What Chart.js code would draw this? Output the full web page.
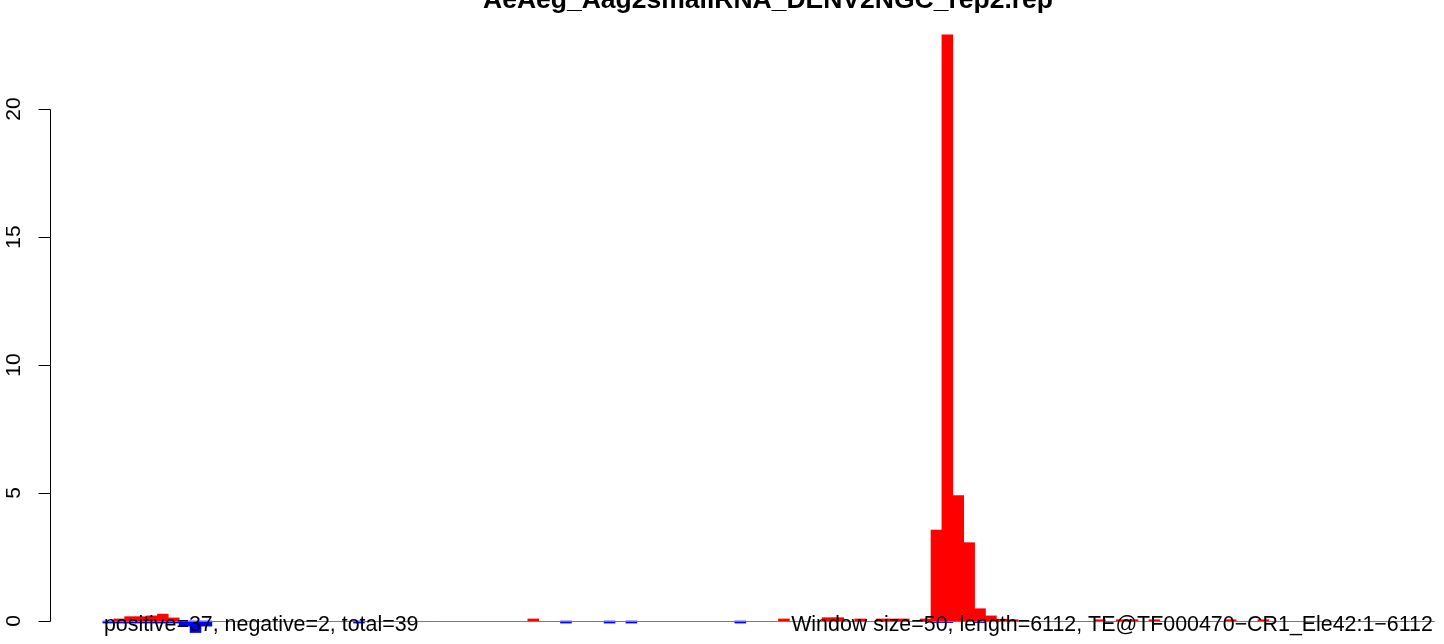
<!DOCTYPE html>
<html>
<head>
<meta charset="utf-8">
<script src="https://cdn.jsdelivr.net/npm/chart.js@4/dist/chart.umd.min.js"></script>
<style>
  html, body { margin: 0; padding: 0; background: #ffffff; }
  #wrap { width: 1444px; height: 644px; }
</style>
</head>
<body>
<div id="wrap"><canvas id="c" width="1444" height="644"></canvas></div>
<script>
// ---- data (window index -> value; window size 50 bp) ----
const titleText = "AeAeg_Aag2smallRNA_DENV2NGC_rep2.rep";
const leftNote = "positive=37, negative=2, total=39";
const rightNote = "Window size=50, length=6112, TE@TF000470\u2212CR1_Ele42:1\u22126112";
const windowSize = 50;
const seqLength = 6112;
const posWindows = [1, 2, 3, 4, 5, 6, 39, 62, 66, 67, 69, 71, 72, 73, 75, 76, 77, 78, 79, 80, 81, 82, 83, 91, 93, 94, 96, 103, 106];
const posValues  = [0.08, 0.17, 0.17, 0.2, 0.27, 0.12, 0.08, 0.08, 0.13, 0.13, 0.08, 0.08, 0.08, 0.08, 0.08, 3.55, 22.9, 4.9, 3.06, 0.48, 0.2, 0.07, 0.05, 0.05, 0.05, 0.05, 0.05, 0.05, 0.05];
const negWindows = [0, 1, 2, 3, 4, 5, 6, 7, 8, 9, 23, 42, 46, 48, 58, 76, 77, 80];
const negValues  = [-0.08, -0.08, -0.08, -0.08, -0.08, -0.08, -0.08, -0.2, -0.45, -0.2, -0.08, -0.08, -0.08, -0.08, -0.08, -0.06, -0.06, -0.06];
const yTicks = [0, 5, 10, 15, 20];

// ---- build full series over all windows (empty windows -> null) ----
const nWindows = Math.ceil(seqLength / windowSize);
function series(wins, vals) {
  const out = [];
  for (let i = 0; i < nWindows; i++) out.push({ x: i * windowSize + windowSize / 2, y: null });
  wins.forEach((w, k) => { out[w].y = vals[k]; });
  return out;
}

const FONT = '"Liberation Sans", Arial, Helvetica, sans-serif';

const decor = {
  id: 'decor',
  afterDatasetsDraw(chart) {
    const ctx = chart.ctx, xs = chart.scales.x, ys = chart.scales.y;
    ctx.save();
    ctx.strokeStyle = '#7a7a7a';
    ctx.lineWidth = 1;
    const y0 = Math.round(ys.getPixelForValue(0)) + 0.5;
    ctx.beginPath();
    ctx.moveTo(xs.getPixelForValue(0), y0);
    ctx.lineTo(xs.getPixelForValue(seqLength), y0);
    ctx.stroke();
    ctx.restore();
  },
  afterDraw(chart) {
    const ctx = chart.ctx, xs = chart.scales.x, ys = chart.scales.y;
    ctx.save();
    // y axis
    const ax = 50.5;
    ctx.strokeStyle = '#000';
    ctx.lineWidth = 1;
    ctx.beginPath();
    ctx.moveTo(ax, Math.round(ys.getPixelForValue(yTicks[0])) + 0.5);
    ctx.lineTo(ax, Math.round(ys.getPixelForValue(yTicks[yTicks.length - 1])) + 0.5);
    yTicks.forEach(v => {
      const py = Math.round(ys.getPixelForValue(v)) + 0.5;
      ctx.moveTo(ax, py);
      ctx.lineTo(ax - 12, py);
    });
    ctx.stroke();
    ctx.fillStyle = '#000';
    ctx.font = '21px ' + FONT;
    ctx.textAlign = 'center';
    ctx.textBaseline = 'alphabetic';
    yTicks.forEach(v => {
      const py = ys.getPixelForValue(v);
      ctx.save();
      ctx.translate(20, py);
      ctx.rotate(-Math.PI / 2);
      ctx.fillText(String(v), 0, 0);
      ctx.restore();
    });
    // title (partly cut off at the top)
    ctx.font = 'bold 26.5px ' + FONT;
    ctx.textAlign = 'center';
    ctx.fillText(titleText, 768, 8);
    // bottom notes
    ctx.font = '21.4px ' + FONT;
    ctx.textAlign = 'left';
    ctx.fillText(leftNote, xs.getPixelForValue(0) + 1, 631);
    ctx.textAlign = 'right';
    ctx.fillText(rightNote, xs.getPixelForValue(seqLength) - 2, 631);
    ctx.restore();
  }
};

new Chart(document.getElementById('c'), {
  type: 'bar',
  data: {
    datasets: [
      { label: 'positive', data: series(posWindows, posValues), backgroundColor: '#ff0000', borderWidth: 0, grouped: false, barPercentage: 1, categoryPercentage: 1 },
      { label: 'negative', data: series(negWindows, negValues), backgroundColor: '#0000ff', borderWidth: 0, grouped: false, barPercentage: 1, categoryPercentage: 1 }
    ]
  },
  options: {
    responsive: false,
    devicePixelRatio: 1,
    animation: false,
    layout: { padding: { left: 50, right: 0, top: 20, bottom: 0 } },
    plugins: { legend: { display: false }, tooltip: { enabled: false }, title: { display: false } },
    scales: {
      x: { type: 'linear', display: false, offset: false, min: -242.75, max: 6154 },
      y: { type: 'linear', display: false, min: -0.898, max: 23.477 }
    }
  },
  plugins: [decor]
});
</script>
</body>
</html>
